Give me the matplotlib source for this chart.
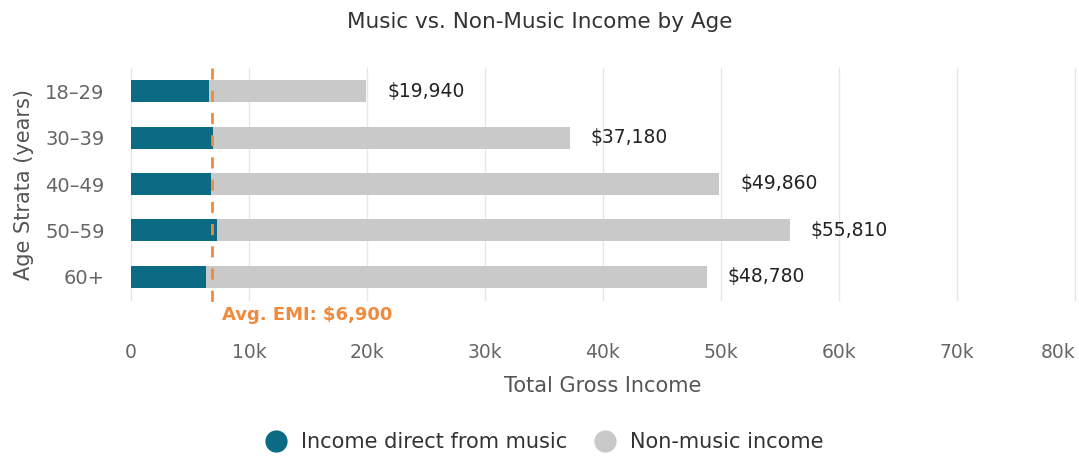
import matplotlib
matplotlib.use("Agg")
import matplotlib.pyplot as plt
from matplotlib.lines import Line2D

categories = ["18–29", "30–39", "40–49", "50–59", "60+"]
music_income = [6590, 6930, 6760, 7270, 6330]
total_income = [19940, 37180, 49860, 55810, 48780]
non_music_income = [t - m for t, m in zip(total_income, music_income)]
avg_emi = 6900
x_ticks = [0, 10000, 20000, 30000, 40000, 50000, 60000, 70000, 80000]
x_tick_labels = ["0", "10k", "20k", "30k", "40k", "50k", "60k", "70k", "80k"]

TEAL = "#0b6b85"
GREY = "#c9c9c9"
ORANGE = "#f28a3c"

plt.rcParams['font.family'] = ['DejaVu Sans']

fig = plt.figure(figsize=(10.79, 4.58), dpi=100)
ax = fig.add_axes([131/1079, 1 - 300/458, (1075 - 131)/1079, 232/458])

y = list(range(len(categories)))
ax.barh(y, music_income, height=0.47, color=TEAL, zorder=3)
ax.barh(y, non_music_income, left=music_income, height=0.47, color=GREY, zorder=3)

for yi, tot in zip(y, total_income):
    ax.text(tot + 1800, yi, f"${tot:,}", va="center", ha="left", fontsize=13.5, color="#222222")

ax.set_ylim(4.5, -0.5)
ax.set_xlim(0, 80000)
ax.set_xticks(x_ticks)
ax.set_xticklabels(x_tick_labels, color="#666666", fontsize=13.5)
ax.get_xticklabels()[-1].set_horizontalalignment("right")
ax.set_yticks(y)
ax.set_yticklabels(categories, color="#666666", fontsize=14)
ax.tick_params(axis="both", length=0)
ax.tick_params(axis="x", pad=31)
ax.tick_params(axis="y", pad=19)
for s in ax.spines.values():
    s.set_visible(False)
ax.grid(axis="x", color="#e6e6e6", linewidth=1, zorder=0)
for gl in ax.get_xgridlines():
    gl.set_clip_on(False)
ax.set_axisbelow(True)

ax.plot([avg_emi, avg_emi], [-0.5, 4.62], color=ORANGE, linestyle=(0, (4, 4)),
        linewidth=2, clip_on=False, zorder=4)
ax.text(avg_emi + 800, 4.82, f"Avg. EMI: ${avg_emi:,}", color=ORANGE, fontsize=13,
        fontweight="bold", ha="left", va="center", clip_on=False)

ax.set_xlabel("Total Gross Income", color="#555555", fontsize=15, labelpad=10)
ax.set_ylabel("Age Strata (years)", color="#555555", fontsize=15, labelpad=8)

fig.text(0.5, 1 - 22/458, "Music vs. Non-Music Income by Age", ha="center", va="center",
         fontsize=15.5, color="#333333")

handles = [Line2D([], [], marker="o", linestyle="", markersize=15, color=TEAL),
           Line2D([], [], marker="o", linestyle="", markersize=15, color=GREY)]
fig.legend(handles, ["Income direct from music", "Non-music income"], loc="center",
           bbox_to_anchor=(0.5, 1 - 442/458), ncol=2, frameon=False, fontsize=15,
           handletextpad=0.2, columnspacing=0.8, labelcolor="#333333")

fig.savefig("out.png", dpi=100)
